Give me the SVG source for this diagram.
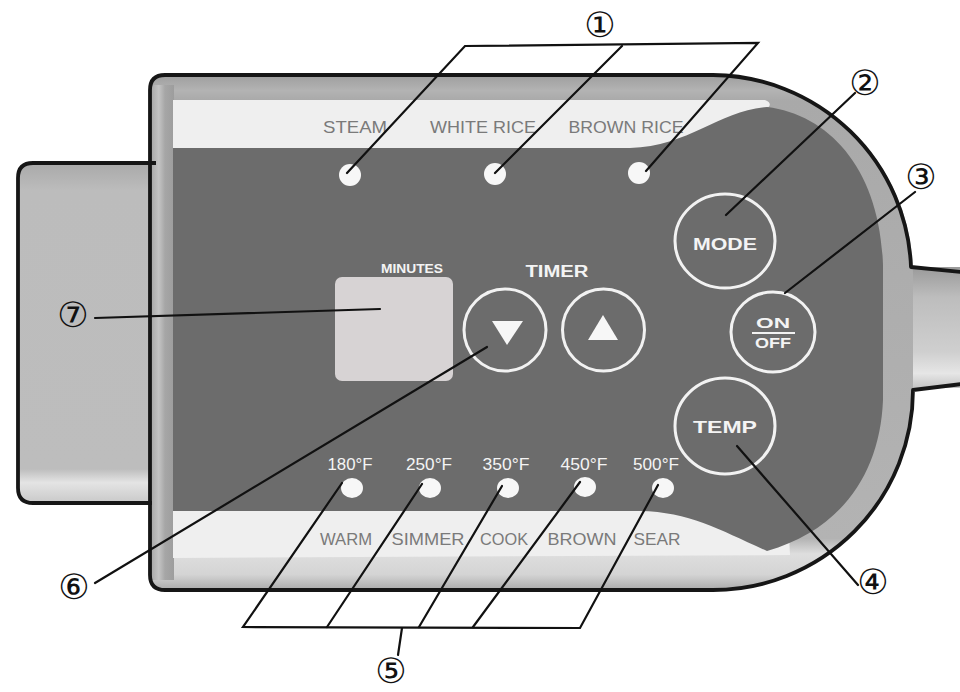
<svg xmlns="http://www.w3.org/2000/svg" width="960" height="692" viewBox="0 0 960 692">
<defs>
<linearGradient id="plugG" x1="0" y1="163" x2="0" y2="503" gradientUnits="userSpaceOnUse">
<stop offset="0" stop-color="#a9a9a9"/>
<stop offset="0.08" stop-color="#bcbcbc"/>
<stop offset="0.9" stop-color="#bdbdbd"/>
<stop offset="0.94" stop-color="#e4e4e4"/>
<stop offset="1" stop-color="#c9c9c9"/>
</linearGradient>
<linearGradient id="bodyG" x1="0" y1="75" x2="0" y2="590" gradientUnits="userSpaceOnUse">
<stop offset="0" stop-color="#9e9e9e"/>
<stop offset="0.03" stop-color="#b3b3b3"/>
<stop offset="0.05" stop-color="#a9a9a9"/>
<stop offset="0.9" stop-color="#b3b3b3"/>
<stop offset="0.93" stop-color="#dedede"/>
<stop offset="0.97" stop-color="#d4d4d4"/>
<stop offset="1" stop-color="#aaaaaa"/>
</linearGradient>
<linearGradient id="cableG" x1="0" y1="267" x2="0" y2="388" gradientUnits="userSpaceOnUse">
<stop offset="0" stop-color="#9a9a9a"/>
<stop offset="0.25" stop-color="#bdbdbd"/>
<stop offset="0.7" stop-color="#cfcfcf"/>
<stop offset="0.88" stop-color="#e6e6e6"/>
<stop offset="1" stop-color="#c4c4c4"/>
</linearGradient>
<linearGradient id="leftRing" x1="150" y1="0" x2="175" y2="0" gradientUnits="userSpaceOnUse">
<stop offset="0" stop-color="#a4a4a4"/>
<stop offset="0.35" stop-color="#c4c4c4"/>
<stop offset="0.6" stop-color="#a6a6a6"/>
<stop offset="1" stop-color="#9c9c9c"/>
</linearGradient>
</defs>
<style>
.outline{fill:none;stroke:#161616;stroke-width:3.8;stroke-linejoin:round}
.band{font-family:"Liberation Sans",Arial,sans-serif;font-size:17px;fill:#7a7a7a;text-anchor:middle}
.temp{font-family:"Liberation Sans",Arial,sans-serif;font-size:16px;fill:#f4f4f4;text-anchor:middle}
.btn{font-family:"Liberation Sans",Arial,sans-serif;font-weight:bold;fill:#f4f4f4;text-anchor:middle}
.ring{fill:none;stroke:#f2f2f2;stroke-width:3}
.led{fill:#f7f7f7}
.num{font-family:"DejaVu Sans",sans-serif;font-size:35px;fill:#111;text-anchor:middle}
.lead{stroke:#111;stroke-width:2.2;fill:none;stroke-linecap:round}
</style>

<g id="housing">
<path d="M18,178 Q18,163 33,163 L156,163 L156,503 L33,503 Q18,503 18,488 Z" fill="url(#plugG)"/>
<rect x="900" y="267" width="62" height="121" fill="url(#cableG)"/>
<path d="M150,90 Q150,75 165,75 L713,75 A200,200 0 0 1 913,275 L913,390 A200,200 0 0 1 713,590 L165,590 Q150,590 150,575 Z" fill="url(#bodyG)"/>
<rect x="150" y="85" width="24" height="495" fill="url(#leftRing)"/>
<path d="M173,100 L765,100 C771,102 771,106 767,108 L790,555 L173,558 Z" fill="#efefef"/>
<path d="M173,148 L630,148 C690,146 720,110 767,107 C830,115 880,170 883,265 L883,400 C880,475 840,530 767,551 C720,530 690,512 640,511 L173,511 Z" fill="#6c6c6c"/>
<path class="outline" d="M156,163 L33,163 Q18,163 18,178 L18,488 Q18,503 33,503 L152,503"/>
<path class="outline" d="M150,90 Q150,75 165,75 L713,75 A200,200 0 0 1 911,267 L962,272"/>
<path class="outline" d="M962,384 L913,390 A200,200 0 0 1 713,590 L165,590 Q150,590 150,575 L150,90"/>
</g>

<g id="mode-labels">
<text class="band" x="355" y="133" textLength="64" lengthAdjust="spacingAndGlyphs">STEAM</text>
<text class="band" x="483" y="133" textLength="106" lengthAdjust="spacingAndGlyphs">WHITE RICE</text>
<text class="band" x="626" y="133" textLength="115" lengthAdjust="spacingAndGlyphs">BROWN RICE</text>
<circle class="led" cx="350" cy="175" r="11"/>
<circle class="led" cx="495" cy="174" r="11"/>
<circle class="led" cx="639" cy="173" r="11"/>
</g>

<g id="display">
<text class="btn" x="412" y="273" font-size="12" textLength="62" lengthAdjust="spacingAndGlyphs">MINUTES</text>
<rect x="335" y="277" width="118" height="104" rx="7" fill="#d7d3d4"/>
</g>

<g id="timer">
<text class="btn" x="557" y="277" font-size="16" textLength="63" lengthAdjust="spacingAndGlyphs">TIMER</text>
<circle class="ring" cx="505" cy="330" r="41"/>
<polygon points="492,321 523,321 507,345" fill="#f7f7f7"/>
<circle class="ring" cx="603.5" cy="330" r="41"/>
<polygon points="603,315 588,340 618,340" fill="#f7f7f7"/>
</g>

<g id="mode-btn">
<ellipse class="ring" cx="725" cy="241" rx="50" ry="47"/>
<text class="btn" x="725" y="250" font-size="17" textLength="64" lengthAdjust="spacingAndGlyphs">MODE</text>
</g>

<g id="onoff-btn">
<ellipse class="ring" cx="773" cy="332" rx="42" ry="40"/>
<text class="btn" x="773" y="328" font-size="14" textLength="34" lengthAdjust="spacingAndGlyphs">ON</text>
<line x1="752" y1="333" x2="795" y2="333" stroke="#f2f2f2" stroke-width="2"/>
<text class="btn" x="773" y="348" font-size="14" textLength="36" lengthAdjust="spacingAndGlyphs">OFF</text>
</g>

<g id="temp-btn">
<ellipse class="ring" cx="725" cy="426" rx="50" ry="48"/>
<text class="btn" x="725" y="433" font-size="17" textLength="64" lengthAdjust="spacingAndGlyphs">TEMP</text>
</g>

<g id="temp-leds">
<text class="temp" x="350" y="470" textLength="45" lengthAdjust="spacingAndGlyphs">180°F</text>
<text class="temp" x="429" y="470" textLength="46" lengthAdjust="spacingAndGlyphs">250°F</text>
<text class="temp" x="506" y="470" textLength="47" lengthAdjust="spacingAndGlyphs">350°F</text>
<text class="temp" x="584" y="470" textLength="47" lengthAdjust="spacingAndGlyphs">450°F</text>
<text class="temp" x="656" y="470" textLength="46" lengthAdjust="spacingAndGlyphs">500°F</text>
<ellipse class="led" cx="352" cy="488" rx="11" ry="10"/>
<ellipse class="led" cx="430" cy="488" rx="11" ry="10"/>
<ellipse class="led" cx="508" cy="488" rx="11" ry="10"/>
<ellipse class="led" cx="585" cy="487" rx="11" ry="10"/>
<ellipse class="led" cx="663" cy="488" rx="11" ry="10"/>
<text class="band" x="346" y="545" textLength="52" lengthAdjust="spacingAndGlyphs">WARM</text>
<text class="band" x="428" y="545" textLength="73" lengthAdjust="spacingAndGlyphs">SIMMER</text>
<text class="band" x="504" y="545" textLength="48" lengthAdjust="spacingAndGlyphs">COOK</text>
<text class="band" x="582" y="545" textLength="69" lengthAdjust="spacingAndGlyphs">BROWN</text>
<text class="band" x="657" y="545" textLength="47" lengthAdjust="spacingAndGlyphs">SEAR</text>
</g>

<g id="connectors">
<polyline class="lead" points="347,173 465,46 758,43 646,171"/>
<line class="lead" x1="622" y1="46" x2="495" y2="173"/>
<line class="lead" x1="855" y1="93" x2="726" y2="215"/>
<line class="lead" x1="915" y1="192" x2="785" y2="293"/>
<line class="lead" x1="737" y1="446" x2="858" y2="585"/>
<polyline class="lead" points="342,483 243,627 580,628 658,485"/>
<line class="lead" x1="422" y1="484" x2="327" y2="627"/>
<line class="lead" x1="502" y1="486" x2="419" y2="627"/>
<line class="lead" x1="580" y1="482" x2="473" y2="627"/>
<line class="lead" x1="402" y1="628" x2="398" y2="655"/>
<line class="lead" x1="95" y1="583" x2="487" y2="347"/>
<line class="lead" x1="95" y1="318" x2="380" y2="309"/>
</g>

<g id="callouts">
<text class="num" x="600" y="37">①</text>
<text class="num" x="865" y="95">②</text>
<text class="num" x="921" y="189">③</text>
<text class="num" x="873" y="594">④</text>
<text class="num" x="391" y="683">⑤</text>
<text class="num" x="74" y="599">⑥</text>
<text class="num" x="73" y="327">⑦</text>
</g>
</svg>
